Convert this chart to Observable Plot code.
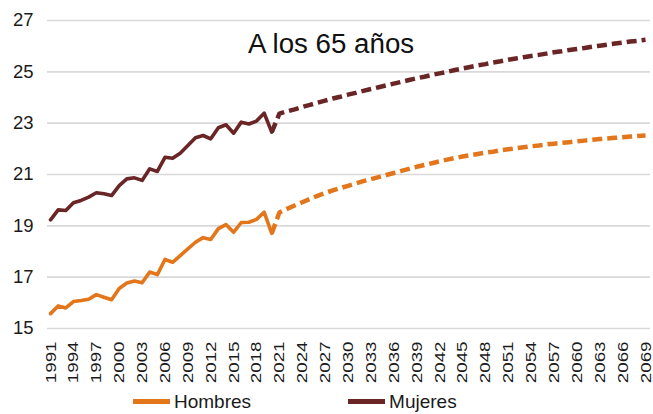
<!DOCTYPE html>
<html><head><meta charset="utf-8">
<script src="https://cdn.jsdelivr.net/npm/d3@7"></script>
<script src="https://cdn.jsdelivr.net/npm/@observablehq/plot@0.6"></script>
<style>
body{margin:0;background:#fff;font-family:"Liberation Sans",Arial,sans-serif;}
#wrap{position:relative;width:653px;height:414px;overflow:hidden;background:#fff}
#legend{position:absolute;left:133px;top:391px;display:flex;align-items:center;font-size:19px;color:#1a1a1a;line-height:21px}
.item{display:flex;align-items:center}
.sw{display:inline-block;width:37px;height:5px;margin-right:4px}
</style></head><body><div id="wrap"><div id="chart"></div><div id="legend"></div></div>
<script>
const seriesNames = ["Hombres", "Mujeres"];
const seriesColors = ["#E3761B", "#6A2527"];
const titleText = "A los 65 años";

const histYears = d3.range(1991, 2021);
const hombresHist = [15.58,15.88,15.80,16.05,16.09,16.14,16.32,16.22,16.12,16.56,16.77,16.85,16.78,17.20,17.10,17.69,17.58,17.84,18.10,18.36,18.54,18.47,18.89,19.05,18.75,19.13,19.14,19.25,19.53,18.71];
const mujeresHist = [19.23,19.62,19.60,19.90,19.99,20.12,20.29,20.25,20.18,20.57,20.83,20.87,20.77,21.22,21.12,21.67,21.63,21.83,22.13,22.43,22.52,22.39,22.82,22.94,22.61,23.04,22.97,23.08,23.39,22.65];

const projYears = d3.range(2020, 2070);
const hombresProj = [18.71,19.52,19.66,19.79,19.92,20.05,20.17,20.28,20.38,20.47,20.56,20.65,20.74,20.82,20.90,20.98,21.06,21.14,21.22,21.30,21.37,21.44,21.51,21.58,21.64,21.70,21.75,21.80,21.85,21.89,21.94,21.98,22.02,22.06,22.10,22.13,22.17,22.20,22.23,22.26,22.29,22.32,22.35,22.38,22.40,22.43,22.45,22.48,22.50,22.52];
const mujeresProj = [22.65,23.37,23.46,23.54,23.63,23.71,23.80,23.88,23.96,24.03,24.11,24.18,24.26,24.33,24.40,24.47,24.54,24.61,24.68,24.75,24.81,24.88,24.94,25.00,25.07,25.13,25.19,25.25,25.30,25.36,25.41,25.47,25.52,25.57,25.62,25.66,25.71,25.76,25.80,25.85,25.89,25.93,25.98,26.02,26.06,26.10,26.14,26.18,26.21,26.25];

const yTicks = [15, 17, 19, 21, 23, 25, 27];
const xTicks = d3.range(1991, 2070, 3);

const hist = [];
histYears.forEach((y, i) => {
  hist.push({year: y, value: hombresHist[i], serie: "Hombres"});
  hist.push({year: y, value: mujeresHist[i], serie: "Mujeres"});
});
const proj = [];
projYears.forEach((y, i) => {
  proj.push({year: y, value: hombresProj[i], serie: "Hombres"});
  proj.push({year: y, value: mujeresProj[i], serie: "Mujeres"});
});

const font = "'Liberation Sans', Arial, sans-serif";
const chart = Plot.plot({
  width: 653,
  height: 390,
  marginLeft: 47,
  marginRight: 3,
  marginTop: 20,
  marginBottom: 62,
  style: {fontFamily: font, background: "transparent", color: "#1a1a1a"},
  x: {domain: [1990.6, 2069.65]},
  y: {domain: [15, 27]},
  color: {domain: seriesNames, range: seriesColors},
  marks: [
    Plot.ruleY(yTicks, {stroke: "#d9d9d9", strokeWidth: 1.6}),
    Plot.axisY({ticks: yTicks, tickSize: 0, tickPadding: 14, fontSize: 18.5, label: null, tickFormat: d => String(d)}),
    Plot.axisX({ticks: xTicks, tickSize: 0, tickPadding: 13, tickRotate: -90, fontSize: 15.5, label: null, tickFormat: d => String(d)}),
    Plot.lineY(proj, {x: "year", y: "value", z: "serie", stroke: "serie", strokeWidth: 4.5, strokeDasharray: "10,5", strokeLinecap: "butt"}),
    Plot.lineY(hist, {x: "year", y: "value", z: "serie", stroke: "serie", strokeWidth: 3.6, strokeLinejoin: "round", strokeLinecap: "round"}),
    Plot.text([titleText], {frameAnchor: "top", dx: -18, dy: 13, fontSize: 27.7, fill: "#111"})
  ]
});
chart.querySelectorAll('g[aria-label="x-axis tick label"] text').forEach(t => {
  const tr = t.getAttribute("transform");
  if (tr) t.setAttribute("transform", tr + " scale(1.21,1)");
});
document.getElementById("chart").appendChild(chart);

const legend = document.getElementById("legend");
seriesNames.forEach((n, i) => {
  const it = document.createElement("div");
  it.className = "item";
  if (i > 0) it.style.marginLeft = "97px";
  const sw = document.createElement("span");
  sw.className = "sw";
  sw.style.background = seriesColors[i];
  const t = document.createElement("span");
  t.textContent = n;
  it.appendChild(sw); it.appendChild(t);
  legend.appendChild(it);
});
</script></body></html>
